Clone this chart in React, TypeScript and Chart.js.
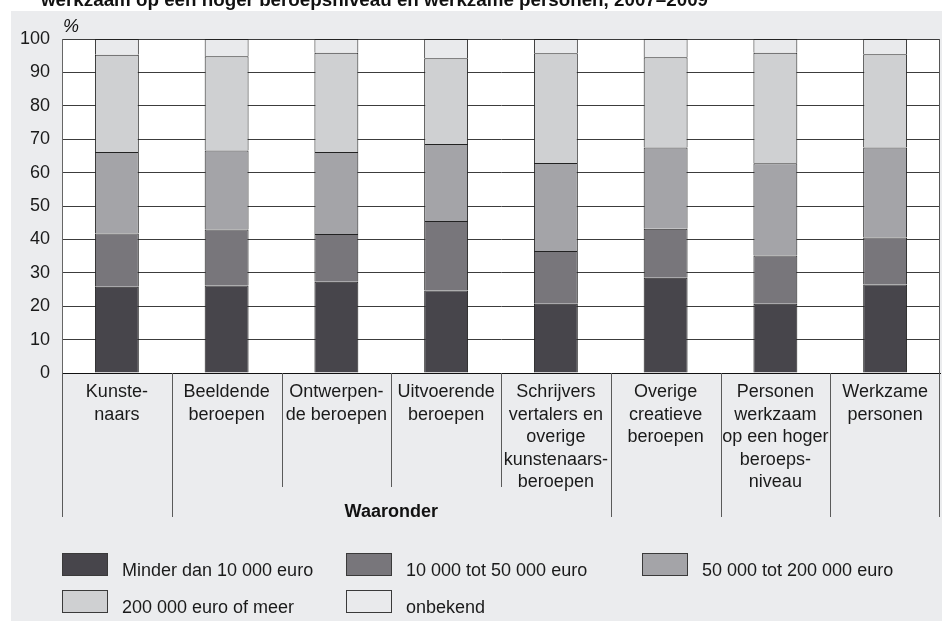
import React, { useEffect, useRef } from 'react';
import { Chart, registerables } from 'chart.js';

Chart.register(...registerables);

const titleText = 'werkzaam op een hoger beroepsniveau en werkzame personen, 2007\u20132009';
const unitLabel = '%';
const groupLabel = 'Waaronder';
const groupFirst = 1;
const groupLast = 4;

const categories: string[][] = [
  ['Kunste-', 'naars'],
  ['Beeldende', 'beroepen'],
  ['Ontwerpen-', 'de beroepen'],
  ['Uitvoerende', 'beroepen'],
  ['Schrijvers', 'vertalers en', 'overige', 'kunstenaars-', 'beroepen'],
  ['Overige', 'creatieve', 'beroepen'],
  ['Personen', 'werkzaam', 'op een hoger', 'beroeps-', 'niveau'],
  ['Werkzame', 'personen'],
];

const seriesLabels = [
  'Minder dan 10 000 euro',
  '10 000 tot 50 000 euro',
  '50 000 tot 200 000 euro',
  '200 000 euro of meer',
  'onbekend',
];

const minder10k = [25.8, 26.2, 27.3, 24.7, 20.7, 28.5, 20.7, 26.5];
const tot50k = [16.0, 16.8, 14.3, 20.8, 15.8, 14.7, 14.5, 14.1];
const tot200k = [24.4, 23.6, 24.6, 23.1, 26.4, 24.3, 27.6, 26.9];
const meer200k = [29.1, 28.2, 29.7, 25.6, 32.8, 27.0, 33.1, 27.9];
const onbekend = [4.7, 5.2, 4.1, 5.8, 4.3, 5.5, 4.1, 4.6];

const yMin = 0;
const yMax = 100;
const yStep = 10;

const seriesColors = ['#47454b', '#78767b', '#a4a4a8', '#cfd0d2', '#e9eaec'];

const FONT = '"Liberation Sans", Arial, Helvetica, sans-serif';

const decorPlugin = {
  id: 'decor',
  beforeDraw(chart: any) {
    const { ctx, chartArea } = chart;
    ctx.save();
    ctx.fillStyle = '#ffffff';
    ctx.fillRect(0, 0, chart.width, chart.height);
    ctx.fillStyle = '#ebecee';
    ctx.fillRect(11, 11, 931, chart.height - 13);
    ctx.fillStyle = '#ffffff';
    ctx.fillRect(chartArea.left, chartArea.top, chartArea.right - chartArea.left, chartArea.bottom - chartArea.top);
    ctx.restore();
  },
  afterDraw(chart: any) {
    const { ctx, chartArea } = chart;
    const xs = chart.scales.x;
    const n = chart.data.labels.length;
    ctx.save();

    // title (cut off at the top)
    ctx.fillStyle = '#111';
    ctx.font = `bold 18.8px ${FONT}`;
    ctx.textAlign = 'left';
    ctx.textBaseline = 'alphabetic';
    ctx.fillText(titleText, 41, 6);

    // unit
    ctx.font = `italic 18px ${FONT}`;
    ctx.textBaseline = 'middle';
    ctx.fillText(unitLabel, 63, 27);

    // plot frame: right border
    ctx.strokeStyle = '#555';
    ctx.lineWidth = 1;
    ctx.beginPath();
    ctx.moveTo(Math.round(chartArea.right) - 0.5, chartArea.top);
    ctx.lineTo(Math.round(chartArea.right) - 0.5, chartArea.bottom);
    ctx.stroke();

    // category separators in the label area
    const bounds: number[] = [];
    for (let i = 0; i <= n; i++) {
      if (i === 0) bounds.push(chartArea.left);
      else if (i === n) bounds.push(chartArea.right);
      else bounds.push((xs.getPixelForValue(i - 1) + xs.getPixelForValue(i)) / 2);
    }
    ctx.strokeStyle = '#5a5a5a';
    for (let i = 0; i <= n; i++) {
      const inner = i > groupFirst && i <= groupLast;
      const yEnd = inner ? 487 : 517;
      const x = Math.round(bounds[i]) + (i === n ? -0.5 : 0.5);
      ctx.beginPath();
      ctx.moveTo(x, chartArea.bottom);
      ctx.lineTo(x, yEnd);
      ctx.stroke();
    }

    // group label
    ctx.fillStyle = '#111';
    ctx.font = `bold 18px ${FONT}`;
    ctx.textAlign = 'center';
    ctx.textBaseline = 'middle';
    ctx.fillText(groupLabel, (bounds[groupFirst] + bounds[groupLast + 1]) / 2, 512);

    // legend
    const colX = [62, 346, 642];
    const rowY = [553, 590];
    const boxW = 46;
    const boxH = 23;
    ctx.font = `18px ${FONT}`;
    ctx.textAlign = 'left';
    ctx.textBaseline = 'alphabetic';
    chart.data.datasets.forEach((ds: any, i: number) => {
      const col = i % 3;
      const row = Math.floor(i / 3);
      const x = colX[col];
      const y = rowY[row];
      ctx.fillStyle = ds.backgroundColor;
      ctx.fillRect(x, y, boxW, boxH);
      ctx.strokeStyle = '#3a3a3a';
      ctx.lineWidth = 1;
      ctx.strokeRect(x + 0.5, y + 0.5, boxW - 1, boxH - 1);
      ctx.fillStyle = '#1a1a1a';
      ctx.fillText(ds.label, x + 60, y + boxH);
    });

    ctx.restore();
  },
};

export default function App() {
  const canvasRef = useRef<HTMLCanvasElement | null>(null);

  useEffect(() => {
    if (!canvasRef.current) return;
    const seriesData = [minder10k, tot50k, tot200k, meer200k, onbekend];
    const chart = new Chart(canvasRef.current, {
      type: 'bar',
      data: {
        labels: categories,
        datasets: seriesData.map((d, i) => ({
          label: seriesLabels[i],
          data: d,
          backgroundColor: seriesColors[i],
          borderColor: '#222222',
          borderWidth: 1,
          borderSkipped: 'start',
          barPercentage: 0.4,
          categoryPercentage: 1.0,
        })),
      },
      options: {
        responsive: false,
        animation: false,
        devicePixelRatio: 1,
        layout: { padding: { left: 12, right: 6, top: 39, bottom: 0 } },
        plugins: {
          legend: { display: false },
          tooltip: { enabled: false },
          title: { display: false },
        },
        scales: {
          x: {
            stacked: true,
            grid: { display: false, drawTicks: false },
            border: { display: true, color: '#111', width: 1 },
            ticks: {
              autoSkip: false,
              maxRotation: 0,
              minRotation: 0,
              padding: 8,
              color: '#1a1a1a',
              font: { family: FONT, size: 18, lineHeight: 1.25 },
            },
            afterFit: (s: any) => {
              s.height = 250;
            },
          },
          y: {
            stacked: true,
            min: yMin,
            max: yMax,
            ticks: {
              stepSize: yStep,
              padding: 12,
              color: '#1a1a1a',
              font: { family: FONT, size: 18 },
            },
            grid: { color: '#3c3c3c', lineWidth: 1, drawTicks: false },
            border: { display: true, color: '#666', width: 1 },
            afterFit: (s: any) => {
              s.width = 50;
            },
          },
        },
      },
      plugins: [decorPlugin],
    });
    return () => chart.destroy();
  }, []);

  return (
    <div style={{ position: 'absolute', left: 0, top: 0, width: 946, height: 623 }}>
      <canvas ref={canvasRef} width={946} height={623} />
    </div>
  );
}
